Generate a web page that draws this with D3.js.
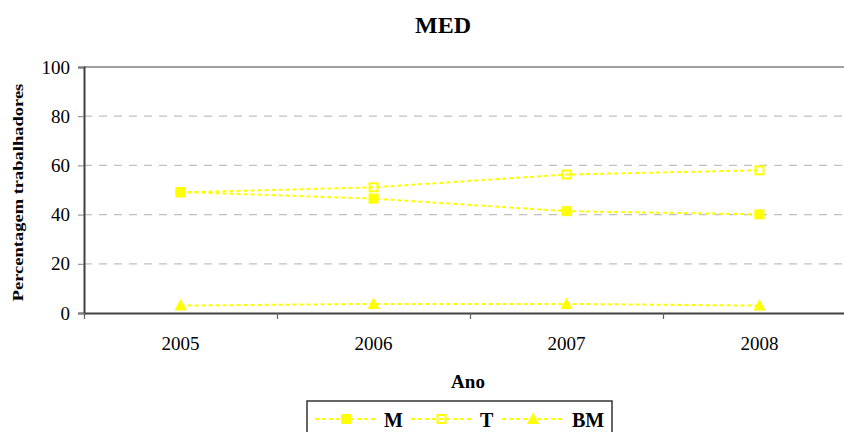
<!DOCTYPE html>
<html>
<head>
<meta charset="utf-8">
<script src="https://cdn.jsdelivr.net/npm/d3@7"></script>
<style>
  html, body { margin: 0; padding: 0; background: #fff; }
  svg { display: block; font-family: "Liberation Serif", "Times New Roman", serif; }
</style>
</head>
<body>
<svg id="chart" width="844" height="432"></svg>
<script>
// Categories and series (percentage of workers)
const years = ["2005", "2006", "2007", "2008"];
const seriesNames = ["M", "T", "BM"];
const valuesM = [49.2, 46.5, 41.4, 40.1];
const valuesT = [49.0, 51.1, 56.3, 58.0];
const valuesBM = [3.0, 3.7, 3.7, 3.0];
const yTicks = [0, 20, 40, 60, 80, 100];

const series = [
  { name: seriesNames[0], values: valuesM, marker: "square" },
  { name: seriesNames[1], values: valuesT, marker: "hollow" },
  { name: seriesNames[2], values: valuesBM, marker: "triangle" }
];

const yellow = "#ffff00";
const serif = "'Liberation Serif', 'Times New Roman', serif";
const svg = d3.select("#chart");

const plot = { left: 84, right: 856, top: 67, bottom: 313 };

const x = d3.scaleBand().domain(years).range([plot.left, plot.right]);
const xEdge = d3.scaleLinear().domain([0, years.length]).range([plot.left, plot.right]);
const y = d3.scaleLinear().domain([0, 100]).range([plot.bottom, plot.top]);
const cx = d => x(d) + x.bandwidth() / 2;

// Horizontal gridlines
svg.append("g").selectAll("line")
  .data(yTicks.filter(t => t > 0 && t < 100))
  .join("line")
  .attr("x1", plot.left).attr("x2", plot.right)
  .attr("y1", d => y(d)).attr("y2", d => y(d))
  .attr("stroke", "#c0c0c0").attr("stroke-width", 1.3)
  .attr("stroke-dasharray", "8,7");

svg.append("line")
  .attr("x1", plot.left).attr("x2", plot.right)
  .attr("y1", y(100)).attr("y2", y(100))
  .attr("stroke", "#a0a0a0").attr("stroke-width", 2);

// Y axis
const yAxis = svg.append("g")
  .attr("transform", `translate(${plot.left},0)`)
  .call(d3.axisLeft(y).tickValues(yTicks).tickSize(6).tickPadding(8));
yAxis.attr("font-family", serif);
yAxis.select(".domain").attr("stroke", "#404040").attr("stroke-width", 2);
yAxis.selectAll(".tick line").attr("stroke", "#808080");
yAxis.selectAll(".tick text")
  .attr("font-size", 19).attr("fill", "#000");

// X axis: ticks on category boundaries, labels centred on categories
const xTickAxis = svg.append("g")
  .attr("transform", `translate(0,${plot.bottom})`)
  .call(d3.axisBottom(xEdge).ticks(years.length).tickFormat("").tickSize(6).tickSizeOuter(0));
xTickAxis.select(".domain").attr("stroke", "#404040").attr("stroke-width", 2.2);
xTickAxis.selectAll(".tick line").attr("stroke", "#606060").attr("stroke-width", 1.2);

const xLabelAxis = svg.append("g")
  .attr("transform", `translate(0,${plot.bottom})`)
  .call(d3.axisBottom(x).tickSize(0).tickPadding(24));
xLabelAxis.attr("font-family", serif);
xLabelAxis.select(".domain").remove();
xLabelAxis.selectAll(".tick text")
  .attr("font-size", 19).attr("fill", "#000");

// Titles
svg.append("text")
  .attr("x", 443).attr("y", 33)
  .attr("text-anchor", "middle")
  .attr("font-size", 24).attr("font-weight", "bold")
  .text("MED");

svg.append("text")
  .attr("x", 468).attr("y", 388)
  .attr("text-anchor", "middle")
  .attr("font-size", 19).attr("font-weight", "bold")
  .text("Ano");

svg.append("text")
  .attr("transform", "translate(22.5,192.5) rotate(-90) scale(1,0.74)")
  .attr("text-anchor", "middle")
  .attr("font-size", 18.5).attr("font-weight", "bold")
  .text("Percentagem trabalhadores");

// Marker drawing
function drawMarker(g, type, px, py) {
  if (type === "square") {
    g.append("rect").attr("x", px - 5).attr("y", py - 5)
      .attr("width", 10).attr("height", 10).attr("fill", yellow);
  } else if (type === "hollow") {
    g.append("rect").attr("x", px - 4).attr("y", py - 4)
      .attr("width", 8).attr("height", 8)
      .attr("fill", "none").attr("stroke", yellow).attr("stroke-width", 2);
  } else {
    g.append("path")
      .attr("d", `M${px},${py - 6.5} L${px + 6},${py + 5} L${px - 6},${py + 5} Z`)
      .attr("fill", yellow);
  }
}

// Series lines and markers
const line = d3.line().x((d, i) => cx(years[i])).y(d => y(d));
const drawOrder = [series[1], series[0], series[2]];
drawOrder.forEach(s => {
  svg.append("path")
    .attr("d", line(s.values))
    .attr("fill", "none")
    .attr("stroke", yellow).attr("stroke-width", 2)
    .attr("stroke-dasharray", "4,3");
});
drawOrder.forEach(s => {
  const g = svg.append("g");
  s.values.forEach((v, i) => drawMarker(g, s.marker, cx(years[i]), y(v)));
});

// Legend
const legend = svg.append("g");
legend.append("rect")
  .attr("x", 307).attr("y", 401).attr("width", 305).attr("height", 45)
  .attr("fill", "#fff").attr("stroke", "#333").attr("stroke-width", 1.5);

const legendItems = [
  { s: series[0], x0: 315, x1: 377, tx: 384 },
  { s: series[1], x0: 411, x1: 472, tx: 480 },
  { s: series[2], x0: 502, x1: 564, tx: 572 }
];
const ly = 419;
legendItems.forEach(it => {
  legend.append("line")
    .attr("x1", it.x0).attr("x2", it.x1).attr("y1", ly).attr("y2", ly)
    .attr("stroke", yellow).attr("stroke-width", 2)
    .attr("stroke-dasharray", "4,3");
  drawMarker(legend, it.s.marker, (it.x0 + it.x1) / 2, ly);
  legend.append("text")
    .attr("x", it.tx).attr("y", 426.5)
    .attr("font-size", 20).attr("font-weight", "bold")
    .text(it.s.name);
});
</script>
</body>
</html>
